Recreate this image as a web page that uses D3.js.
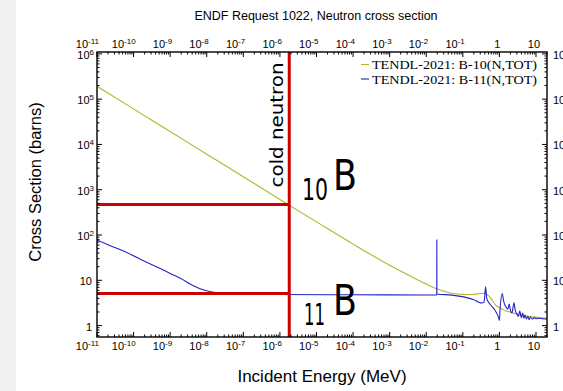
<!DOCTYPE html>
<html><head><meta charset="utf-8">
<script src="https://cdn.jsdelivr.net/npm/d3@7"></script>
<style>body{margin:0;background:#fff;overflow:hidden}svg{display:block}</style>
</head><body>
<script>
const chartTitle = "ENDF Request 1022, Neutron cross section";
const xTitle = "Incident Energy (MeV)";
const yTitle = "Cross Section (barns)";
const xTickExps = [-11,-10,-9,-8,-7,-6,-5,-4,-3,-2,-1,0,1];
const yTickExps = [0,1,2,3,4,5,6];
const seriesNames = ["TENDL-2021: B-10(N,TOT)", "TENDL-2021: B-11(N,TOT)"];
const seriesColors = ["#b4b42a", "#2323c8"];

const b10Energy = [1e-11,1e-10,1e-9,1e-8,1e-7,1e-6,1e-5,1e-4,1e-3,3e-3,0.01,0.02,0.04,0.07,0.1,0.15,0.2,0.3,0.4,0.45,0.5,0.6,0.7,0.8,1.0,1.2,1.5,2,2.6,3.5,5,8,12,20];
const b10Sigma  = [1.93e5,6.1e4,1.93e4,6.1e3,1.93e3,610,195,63,21.5,13.5,8.3,6.4,5.4,5.0,4.9,4.85,4.9,5.1,5.2,4.9,4.6,3.9,3.2,2.8,2.5,2.3,2.1,2.0,1.86,1.75,1.65,1.56,1.5,1.44];

const b11Energy = [1e-11,2e-11,6.5e-11,2e-10,5.2e-10,1e-9,1.9e-9,4.3e-9,7.9e-9,1.8e-8,5e-8,2e-7,1e-6,1e-4,1e-2,0.0194,0.0195,0.01955,0.05,0.12,0.2,0.26,0.33,0.38,0.42,0.45,0.55,0.75,0.95,1.0,1.05,1.2,1.3,1.5,1.7,1.85,2.0,2.2,2.5,2.7,3.0,3.3,3.6,4.0,4.3,4.7,5.0,5.5,6.0,6.5,7,8,9,10,12,15,20];
const b11Sigma  = [78,61,41,26.5,18.4,14.2,11.1,7.6,6.2,5.35,5.0,4.9,4.85,4.8,4.75,4.75,78,5.0,4.7,4.2,3.7,3.35,3.15,3.3,7.2,4.0,3.0,2.2,1.5,1.3,2.5,5.1,3.5,2.6,2.3,3.0,2.2,1.9,3.2,2.2,1.8,1.6,2.1,1.5,1.9,1.45,1.7,1.4,1.6,1.35,1.55,1.4,1.5,1.42,1.45,1.42,1.4];

const coldNeutronEnergy = 1.8e-6;
const b10Marker = 470;
const b11Marker = 5.1;

const W = 563, H = 391;
const L = 97, R = 547, T = 52, B = 337;

const svg = d3.select("body").append("svg").attr("width", W).attr("height", H)
  .style("font-family", "'Liberation Sans', Arial, sans-serif");

svg.append("rect").attr("x",0).attr("y",0).attr("width",16).attr("height",H).attr("fill","#f1f1f1");

const x = d3.scaleLog().domain([1e-11, 20]).range([L, R]);
const y = d3.scaleLog().domain([0.56, 1.1e6]).range([B, T]);

svg.append("defs").append("clipPath").attr("id","clip")
  .append("rect").attr("x",L).attr("y",T).attr("width",R-L).attr("height",B-T);

const plot = svg.append("g").attr("clip-path","url(#clip)");

const line = d3.line().x(d => x(d[0])).y(d => y(d[1])).curve(d3.curveMonotoneX);
const s1 = b10Energy.map((e,i)=>[e,b10Sigma[i]]);
const s2 = b11Energy.map((e,i)=>[e,b11Sigma[i]]);
plot.append("path").attr("d", line(s1)).attr("fill","none").attr("stroke",seriesColors[0]).attr("stroke-width",1.1);
plot.append("path").attr("d", line(s2)).attr("fill","none").attr("stroke",seriesColors[1]).attr("stroke-width",1.1);

// red markers
const red = "#cc0000";
plot.append("line").attr("x1", x(1e-11)).attr("x2", x(coldNeutronEnergy)).attr("y1", y(b10Marker)).attr("y2", y(b10Marker)).attr("stroke",red).attr("stroke-width",3);
plot.append("line").attr("x1", x(1e-11)).attr("x2", x(coldNeutronEnergy)).attr("y1", y(b11Marker)).attr("y2", y(b11Marker)).attr("stroke",red).attr("stroke-width",3);
plot.append("line").attr("x1", x(coldNeutronEnergy)).attr("x2", x(coldNeutronEnergy)).attr("y1", T).attr("y2", B).attr("stroke",red).attr("stroke-width",3);

// frame
svg.append("rect").attr("x",L).attr("y",T).attr("width",R-L).attr("height",B-T)
  .attr("fill","none").attr("stroke","#000").attr("stroke-width",1.4);

// ticks
const tk = svg.append("g").attr("stroke","#000").attr("stroke-width",1);
function logTicks(scale, exps){
  const out=[];
  const [d0,d1]=scale.domain();
  for(let e=exps[0]-1;e<=exps[exps.length-1]+1;e++){
    for(let k=1;k<=9;k++){
      const v=k*Math.pow(10,e);
      if(v>=d0*0.999 && v<=d1*1.001) out.push({v, major:k===1});
    }
  }
  return out;
}
logTicks(x, xTickExps).forEach(t=>{
  const px=x(t.v), len=t.major?5:2.5;
  tk.append("line").attr("x1",px).attr("x2",px).attr("y1",T).attr("y2",T+len);
  tk.append("line").attr("x1",px).attr("x2",px).attr("y1",B).attr("y2",B-len);
});
logTicks(y, yTickExps).forEach(t=>{
  const py=y(t.v), len=t.major?5:2.5;
  tk.append("line").attr("y1",py).attr("y2",py).attr("x1",L).attr("x2",L+len);
  tk.append("line").attr("y1",py).attr("y2",py).attr("x1",R).attr("x2",R-len);
});

function powLabel(sel, e, px, py, anchor){
  const t = sel.append("text").attr("x",px).attr("y",py).attr("font-size",11).attr("fill","#000");
  if(e===0){ t.text("1"); }
  else if(e===1){ t.text("10"); }
  else {
    t.append("tspan").text("10");
    t.append("tspan").attr("dy",-4).attr("font-size",8).text(String(e));
  }
  t.attr("text-anchor", anchor);
  return t;
}
const lab = svg.append("g");
xTickExps.forEach(e=>{
  const px = x(Math.pow(10,e));
  const plain = (e===0||e===1);
  powLabel(lab, e, plain?px-2:px+2, 48, plain?"middle":"end");
  powLabel(lab, e, plain?px-2:px+2, 350, plain?"middle":"end");
});
yTickExps.forEach(e=>{
  const py = y(Math.pow(10,e));
  const plain = (e===0||e===1);
  powLabel(lab, e, plain?92:94, py+5, "end");
  powLabel(lab, e, 553, py+5, "start");
});

// titles
svg.append("text").attr("x",316).attr("y",20).attr("text-anchor","middle").attr("font-size",12.5).text(chartTitle);
svg.append("text").attr("x",322).attr("y",382).attr("text-anchor","middle").attr("font-size",17).text(xTitle);
svg.append("text").attr("transform","translate(41,182) rotate(-90)").attr("text-anchor","middle").attr("font-size",16.5).text(yTitle);

// legend
const lg = svg.append("g");
seriesNames.forEach((n,i)=>{
  const ly = 64.5 + i*14.5;
  lg.append("line").attr("x1",361).attr("x2",369).attr("y1",ly).attr("y2",ly).attr("stroke",seriesColors[i]).attr("stroke-width",1.1);
  lg.append("text").attr("x",372).attr("y",ly+4.5).attr("font-family","'Liberation Serif','Times New Roman',serif")
    .attr("font-size",13.5).attr("textLength",165).attr("lengthAdjust","spacingAndGlyphs").text(n);
});

// annotations
const ann = svg.append("g").style("font-family","'DejaVu Sans','Noto Sans',sans-serif").attr("fill","#000");
ann.append("text").attr("transform","translate(283,125) rotate(-90)").attr("text-anchor","middle")
  .attr("font-size",18).attr("textLength",125).attr("lengthAdjust","spacingAndGlyphs").text("cold neutron");
function isotope(num, sx, sy, bx, by, nw){
  ann.append("text").attr("x",sx).attr("y",sy).attr("font-size",30).attr("textLength",nw).attr("lengthAdjust","spacingAndGlyphs").text(num);
  ann.append("text").attr("x",bx).attr("y",by).attr("font-size",42).attr("textLength",24).attr("lengthAdjust","spacingAndGlyphs").text("B");
}
isotope("10", 302, 200, 333, 190, 26);
isotope("11", 304, 325, 333, 315, 21);
</script>
</body></html>
